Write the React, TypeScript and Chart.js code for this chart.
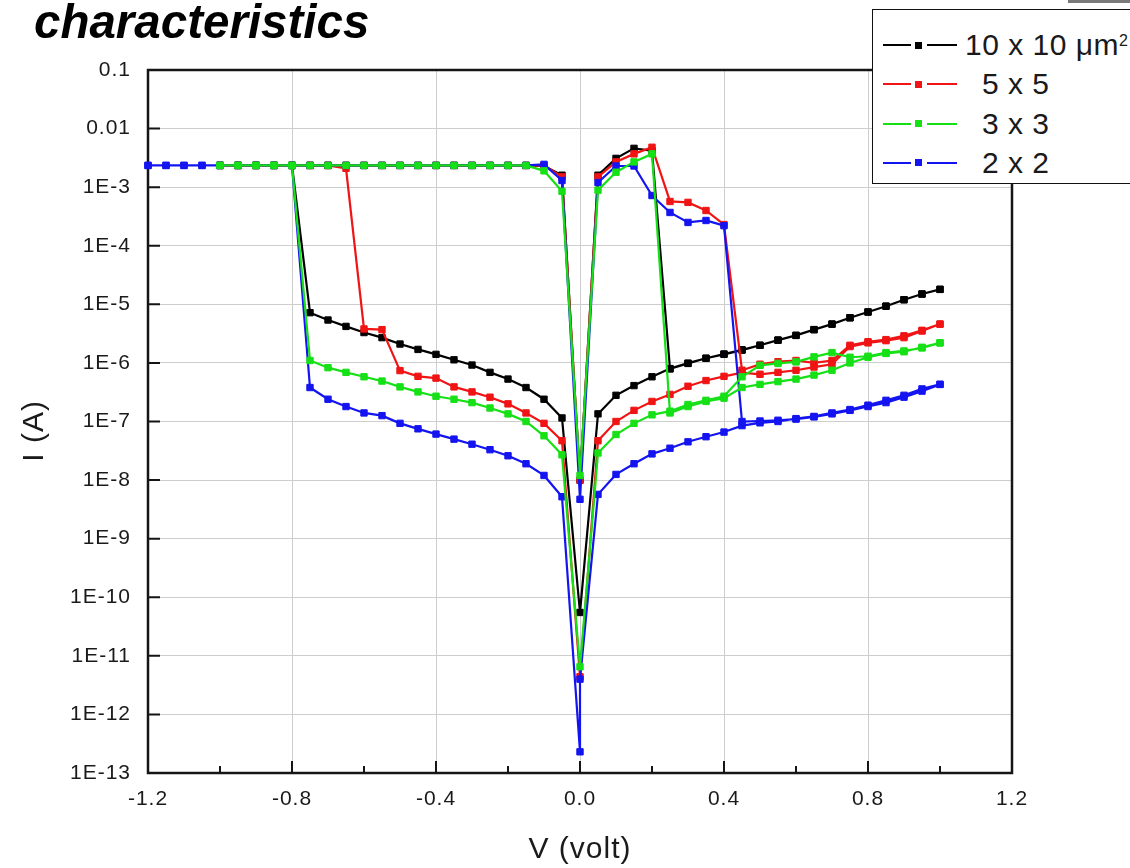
import React, { useEffect, useRef } from 'react';
import { Chart, registerables } from 'chart.js';

Chart.register(...registerables);

const FONT = '"Liberation Sans", Arial, Helvetica, sans-serif';

// ---------- labels / ticks ----------
const CHART_TITLE = 'characteristics';
const X_TITLE = 'V (volt)';
const Y_TITLE = 'I (A)';
const LEGEND_LABELS = ['10 x 10 \u03bcm', '5 x 5', '3 x 3', '2 x 2'];
const LEGEND_SUPERSCRIPTS = ['2', '', '', ''];
const SERIES_COLORS = ['#000000', '#f01414', '#16e016', '#1414f0'];
const SERIES_ORDER = [3, 2, 0, 1];

const X_TICK_VALUES = [-1.2, -0.8, -0.4, 0.0, 0.4, 0.8, 1.2];
const X_TICK_LABELS = ['-1.2', '-0.8', '-0.4', '0.0', '0.4', '0.8', '1.2'];
const X_MINOR_TICKS = [-1.0, -0.6, -0.2, 0.2, 0.6, 1.0];
const Y_TICK_VALUES = [1e-1, 1e-2, 1e-3, 1e-4, 1e-5, 1e-6, 1e-7, 1e-8, 1e-9, 1e-10, 1e-11, 1e-12, 1e-13];
const Y_TICK_LABELS = ['0.1', '0.01', '1E-3', '1E-4', '1E-5', '1E-6', '1E-7', '1E-8', '1E-9', '1E-10', '1E-11', '1E-12', '1E-13'];

// ---------- voltage grids ----------
const V_NEG = [-1.0, -0.95, -0.9, -0.85, -0.8, -0.75, -0.7, -0.65, -0.6, -0.55, -0.5, -0.45, -0.4, -0.35, -0.3, -0.25, -0.2, -0.15, -0.1, -0.05];
const V_NEG_WIDE = [-1.2, -1.15, -1.1, -1.05, -1.0, -0.95, -0.9, -0.85, -0.8, -0.75, -0.7, -0.65, -0.6, -0.55, -0.5, -0.45, -0.4, -0.35, -0.3, -0.25, -0.2, -0.15, -0.1, -0.05];
const V_POS = [0.05, 0.1, 0.15, 0.2, 0.25, 0.3, 0.35, 0.4, 0.45, 0.5, 0.55, 0.6, 0.65, 0.7, 0.75, 0.8, 0.85, 0.9, 0.95, 1.0];

// ---------- 10 x 10 (black) ----------
const BLACK_HIGH_NEG = [2.35e-3, 2.35e-3, 2.35e-3, 2.35e-3, 2.35e-3, 2.35e-3, 2.35e-3, 2.35e-3, 2.35e-3, 2.35e-3, 2.35e-3, 2.35e-3, 2.35e-3, 2.35e-3, 2.35e-3, 2.35e-3, 2.35e-3, 2.35e-3, 2.3e-3, 1.6e-3];
const BLACK_ZERO_HIGH = [1.0e-8];
const BLACK_POS_UP = [1.6e-3, 3.1e-3, 4.6e-3, 4.2e-3, 7.9e-7, 9.8e-7, 1.2e-6, 1.4e-6, 1.65e-6, 2.0e-6, 2.45e-6, 2.95e-6, 3.7e-6, 4.6e-6, 5.9e-6, 7.4e-6, 9.3e-6, 1.2e-5, 1.5e-5, 1.8e-5];
const BLACK_POS_DOWN = [1.35e-7, 2.8e-7, 4.1e-7, 5.8e-7, 8.0e-7, 9.9e-7, 1.2e-6, 1.42e-6, 1.68e-6, 2.0e-6, 2.45e-6, 2.95e-6, 3.7e-6, 4.6e-6, 5.9e-6, 7.4e-6, 9.3e-6, 1.2e-5, 1.5e-5, 1.8e-5];
const BLACK_ZERO_LOW = [5.5e-11];
const BLACK_NEG_DOWN = [2.35e-3, 2.35e-3, 2.35e-3, 2.35e-3, 2.35e-3, 7.2e-6, 5.4e-6, 4.2e-6, 3.3e-6, 2.7e-6, 2.1e-6, 1.7e-6, 1.4e-6, 1.13e-6, 9.2e-7, 6.9e-7, 5.3e-7, 3.8e-7, 2.4e-7, 1.15e-7];

// ---------- 5 x 5 (red) ----------
const RED_HIGH_NEG = [2.35e-3, 2.35e-3, 2.35e-3, 2.35e-3, 2.35e-3, 2.35e-3, 2.35e-3, 2.35e-3, 2.35e-3, 2.35e-3, 2.35e-3, 2.35e-3, 2.35e-3, 2.35e-3, 2.35e-3, 2.35e-3, 2.35e-3, 2.35e-3, 2.35e-3, 1.5e-3];
const RED_ZERO_HIGH = [1.0e-8];
const RED_POS_UP = [1.5e-3, 2.7e-3, 3.7e-3, 4.8e-3, 5.7e-4, 5.5e-4, 4.0e-4, 2.3e-4, 7.5e-7, 9.5e-7, 1.05e-6, 1.1e-6, 1.0e-6, 1.1e-6, 2.0e-6, 2.3e-6, 2.5e-6, 2.9e-6, 3.6e-6, 4.6e-6];
const RED_POS_DOWN = [4.7e-8, 1.0e-7, 1.55e-7, 2.2e-7, 2.9e-7, 4.0e-7, 5.0e-7, 5.9e-7, 6.8e-7, 6.4e-7, 6.9e-7, 7.5e-7, 8.5e-7, 9.5e-7, 1.9e-6, 2.2e-6, 2.4e-6, 2.7e-6, 3.5e-6, 4.6e-6];
const RED_ZERO_LOW = [4.4e-12];
const RED_NEG_DOWN = [2.35e-3, 2.35e-3, 2.35e-3, 2.35e-3, 2.35e-3, 2.35e-3, 2.35e-3, 2.1e-3, 3.8e-6, 3.7e-6, 7.4e-7, 5.9e-7, 5.5e-7, 3.9e-7, 3.2e-7, 2.6e-7, 2.0e-7, 1.4e-7, 9.3e-8, 4.7e-8];

// ---------- 3 x 3 (green) ----------
const GREEN_HIGH_NEG = [2.35e-3, 2.35e-3, 2.35e-3, 2.35e-3, 2.35e-3, 2.35e-3, 2.35e-3, 2.35e-3, 2.35e-3, 2.35e-3, 2.35e-3, 2.35e-3, 2.35e-3, 2.35e-3, 2.35e-3, 2.35e-3, 2.35e-3, 2.35e-3, 1.9e-3, 8.5e-4];
const GREEN_ZERO_HIGH = [1.2e-8];
const GREEN_POS_UP = [8.9e-4, 1.8e-3, 2.7e-3, 3.7e-3, 1.4e-7, 1.8e-7, 2.2e-7, 2.5e-7, 3.8e-7, 4.3e-7, 4.8e-7, 5.3e-7, 6.2e-7, 7.5e-7, 1.0e-6, 1.25e-6, 1.45e-6, 1.55e-6, 1.85e-6, 2.2e-6];
const GREEN_POS_DOWN = [2.9e-8, 6.0e-8, 9.3e-8, 1.3e-7, 1.5e-7, 1.95e-7, 2.3e-7, 2.7e-7, 5.8e-7, 9.1e-7, 9.8e-7, 1.04e-6, 1.27e-6, 1.5e-6, 1.25e-6, 1.3e-6, 1.5e-6, 1.6e-6, 1.8e-6, 2.2e-6];
const GREEN_ZERO_LOW = [6.5e-12];
const GREEN_NEG_DOWN = [2.35e-3, 2.35e-3, 2.35e-3, 2.35e-3, 2.35e-3, 1.1e-6, 8.3e-7, 6.9e-7, 5.8e-7, 4.9e-7, 3.9e-7, 3.2e-7, 2.7e-7, 2.4e-7, 2.1e-7, 1.7e-7, 1.35e-7, 1.0e-7, 5.7e-8, 2.7e-8];

// ---------- 2 x 2 (blue) ----------
const BLUE_HIGH_NEG = [2.35e-3, 2.35e-3, 2.35e-3, 2.35e-3, 2.35e-3, 2.35e-3, 2.35e-3, 2.35e-3, 2.35e-3, 2.35e-3, 2.35e-3, 2.35e-3, 2.35e-3, 2.35e-3, 2.35e-3, 2.35e-3, 2.35e-3, 2.35e-3, 2.35e-3, 2.35e-3, 2.35e-3, 2.35e-3, 2.45e-3, 1.3e-3];
const BLUE_ZERO_HIGH = [4.7e-9];
const BLUE_POS_UP = [1.2e-3, 2.3e-3, 2.3e-3, 7.2e-4, 3.7e-4, 2.5e-4, 2.7e-4, 2.2e-4, 1.0e-7, 1.02e-7, 1.05e-7, 1.1e-7, 1.2e-7, 1.35e-7, 1.55e-7, 1.8e-7, 2.1e-7, 2.6e-7, 3.3e-7, 4.3e-7];
const BLUE_POS_DOWN = [5.7e-9, 1.25e-8, 1.9e-8, 2.8e-8, 3.5e-8, 4.5e-8, 5.5e-8, 6.6e-8, 8.5e-8, 9.5e-8, 1.0e-7, 1.12e-7, 1.22e-7, 1.4e-7, 1.6e-7, 1.9e-7, 2.3e-7, 2.8e-7, 3.6e-7, 4.3e-7];
const BLUE_ZERO_LOW = [4.0e-12, 2.3e-13];
const BLUE_NEG_DOWN = [2.35e-3, 2.35e-3, 2.35e-3, 2.35e-3, 2.35e-3, 2.35e-3, 2.35e-3, 2.35e-3, 2.35e-3, 3.8e-7, 2.4e-7, 1.8e-7, 1.4e-7, 1.26e-7, 9.3e-8, 7.5e-8, 6.1e-8, 5.0e-8, 4.1e-8, 3.3e-8, 2.6e-8, 1.9e-8, 1.2e-8, 5.2e-9];

type Pt = { x: number; y: number };

// Build the bipolar sweep in measurement order:
// negative (high) -> 0 -> positive up -> positive down -> 0 -> negative down
function buildSweep(
  vNeg: number[],
  highNeg: number[],
  zeroHigh: number[],
  posUp: number[],
  posDown: number[],
  zeroLow: number[],
  negDown: number[]
): Pt[] {
  const pts: Pt[] = [];
  for (let i = 0; i < vNeg.length; i++) pts.push({ x: vNeg[i], y: highNeg[i] });
  zeroHigh.forEach((y) => pts.push({ x: 0, y }));
  for (let i = 0; i < V_POS.length; i++) pts.push({ x: V_POS[i], y: posUp[i] });
  for (let i = V_POS.length - 1; i >= 0; i--) pts.push({ x: V_POS[i], y: posDown[i] });
  zeroLow.forEach((y) => pts.push({ x: 0, y }));
  for (let i = vNeg.length - 1; i >= 0; i--) pts.push({ x: vNeg[i], y: negDown[i] });
  return pts;
}

const SWEEPS: Pt[][] = [
  buildSweep(V_NEG, BLACK_HIGH_NEG, BLACK_ZERO_HIGH, BLACK_POS_UP, BLACK_POS_DOWN, BLACK_ZERO_LOW, BLACK_NEG_DOWN),
  buildSweep(V_NEG, RED_HIGH_NEG, RED_ZERO_HIGH, RED_POS_UP, RED_POS_DOWN, RED_ZERO_LOW, RED_NEG_DOWN),
  buildSweep(V_NEG, GREEN_HIGH_NEG, GREEN_ZERO_HIGH, GREEN_POS_UP, GREEN_POS_DOWN, GREEN_ZERO_LOW, GREEN_NEG_DOWN),
  buildSweep(V_NEG_WIDE, BLUE_HIGH_NEG, BLUE_ZERO_HIGH, BLUE_POS_UP, BLUE_POS_DOWN, BLUE_ZERO_LOW, BLUE_NEG_DOWN),
];

function labelFor(values: number[], labels: string[], v: number, log: boolean): string {
  const i = values.findIndex((t) =>
    log ? Math.abs(Math.log10(t) - Math.log10(v)) < 1e-6 : Math.abs(t - v) < 1e-6
  );
  return i >= 0 ? labels[i] : '';
}

const framePlugin = {
  id: 'originFrame',
  beforeDraw(chart: any) {
    chart.ctx.letterSpacing = '1px';
  },
  beforeDatasetsDraw(chart: any) {
    const { ctx, chartArea } = chart;
    const { left, right, top, bottom } = chartArea;
    const xs = chart.scales.x;
    const ys = chart.scales.y;
    ctx.save();
    ctx.strokeStyle = '#151515';
    ctx.lineWidth = 2.5;
    ctx.strokeRect(left, top, right - left, bottom - top);
    ctx.lineWidth = 2;
    ctx.beginPath();
    Y_TICK_VALUES.forEach((v) => {
      const py = ys.getPixelForValue(v);
      ctx.moveTo(left, py);
      ctx.lineTo(left + 12, py);
    });
    X_TICK_VALUES.forEach((v) => {
      const px = xs.getPixelForValue(v);
      ctx.moveTo(px, bottom);
      ctx.lineTo(px, bottom - 12);
    });
    X_MINOR_TICKS.forEach((v) => {
      const px = xs.getPixelForValue(v);
      ctx.moveTo(px, bottom);
      ctx.lineTo(px, bottom - 7);
    });
    ctx.stroke();
    ctx.restore();
  },
};

function ChartCanvas() {
  const ref = useRef<HTMLCanvasElement | null>(null);
  useEffect(() => {
    if (!ref.current) return;
    const chart = new Chart(ref.current, {
      type: 'line',
      data: {
        datasets: SWEEPS.map((pts, i) => ({
          label: LEGEND_LABELS[i],
          data: pts,
          borderColor: SERIES_COLORS[i],
          backgroundColor: SERIES_COLORS[i],
          borderWidth: 2.2,
          pointStyle: 'rect',
          pointRadius: 4.5,
          pointBorderWidth: 1,
          pointBackgroundColor: SERIES_COLORS[i],
          pointBorderColor: SERIES_COLORS[i],
          tension: 0,
          order: SERIES_ORDER[i],
          clip: false as any,
        })),
      },
      options: {
        animation: false,
        responsive: false,
        events: [],
        layout: { padding: { left: 0, top: 70, right: 118, bottom: 0 } },
        plugins: { legend: { display: false }, tooltip: { enabled: false }, title: { display: false } },
        scales: {
          x: {
            type: 'linear',
            min: -1.2,
            max: 1.2,
            afterBuildTicks: (axis: any) => {
              axis.ticks = X_TICK_VALUES.map((v) => ({ value: v }));
            },
            afterFit: (axis: any) => {
              axis.height = 95;
            },
            ticks: {
              autoSkip: false,
              maxRotation: 0,
              padding: 14,
              color: '#1a1a1a',
              font: { family: FONT, size: 21 },
              callback: (v: any) => labelFor(X_TICK_VALUES, X_TICK_LABELS, Number(v), false),
            },
            grid: { color: '#cdcdcd', lineWidth: 1, drawTicks: false },
            border: { display: false },
            title: {
              display: true,
              text: X_TITLE,
              color: '#1a1a1a',
              font: { family: FONT, size: 30 },
              padding: { top: 0, bottom: 0 },
            },
          },
          y: {
            type: 'logarithmic',
            min: 1e-13,
            max: 0.1,
            afterBuildTicks: (axis: any) => {
              axis.ticks = Y_TICK_VALUES.slice().reverse().map((v) => ({ value: v, major: true }));
            },
            afterFit: (axis: any) => {
              axis.width = 148;
            },
            ticks: {
              autoSkip: false,
              padding: 17,
              color: '#1a1a1a',
              font: { family: FONT, size: 21 },
              callback: (v: any) => labelFor(Y_TICK_VALUES, Y_TICK_LABELS, Number(v), true),
            },
            grid: { color: '#cdcdcd', lineWidth: 1, drawTicks: false },
            border: { display: false },
            title: {
              display: true,
              text: Y_TITLE + '  ',
              color: '#1a1a1a',
              font: { family: FONT, size: 30 },
              padding: { top: 17, bottom: 0 },
            },
          },
        },
      },
      plugins: [framePlugin],
    } as any);
    return () => chart.destroy();
  }, []);
  return <canvas ref={ref} width={1130} height={868} style={{ position: 'absolute', left: 0, top: 0 }} />;
}

function Legend() {
  const rows = LEGEND_LABELS.map((lab, i) => {
    const cy = 45 + i * 39.3;
    const c = SERIES_COLORS[i];
    return (
      <React.Fragment key={i}>
        <div style={{ position: 'absolute', left: 883, top: cy - 1, width: 28, height: 2, background: c }} />
        <div style={{ position: 'absolute', left: 915, top: cy - 3.5, width: 7, height: 7, background: c }} />
        <div style={{ position: 'absolute', left: 927, top: cy - 1, width: 30, height: 2, background: c }} />
        <div
          style={{
            position: 'absolute',
            left: i === 0 ? 965 : 982,
            top: cy - 15,
            fontFamily: FONT,
            fontSize: 30,
            lineHeight: '30px',
            letterSpacing: '0.5px',
            color: '#1a1a1a',
            whiteSpace: 'nowrap',
          }}
        >
          {lab}
          {LEGEND_SUPERSCRIPTS[i] ? (
            <sup style={{ fontSize: 16, verticalAlign: 'top', position: 'relative', top: -4 }}>{LEGEND_SUPERSCRIPTS[i]}</sup>
          ) : null}
        </div>
      </React.Fragment>
    );
  });
  return (
    <>
      <div
        style={{
          position: 'absolute',
          left: 872,
          top: 9,
          width: 320,
          height: 175,
          boxSizing: 'border-box',
          border: '1.5px solid #111',
          background: '#fff',
        }}
      />
      {rows}
    </>
  );
}

export default function App() {
  return (
    <div
      style={{
        position: 'absolute',
        left: 0,
        top: 0,
        width: 1130,
        height: 868,
        overflow: 'hidden',
        background: '#fff',
      }}
    >
      <ChartCanvas />
      <div
        style={{
          position: 'absolute',
          left: 34,
          top: -2,
          fontFamily: FONT,
          fontWeight: 'bold',
          fontStyle: 'italic',
          fontSize: 47.5,
          lineHeight: '47px',
          color: '#000',
          whiteSpace: 'nowrap',
        }}
      >
        {CHART_TITLE}
      </div>
      <div style={{ position: 'absolute', left: 1068, top: 0, width: 62, height: 3, background: '#7a7a7a' }} />
      <Legend />
    </div>
  );
}
